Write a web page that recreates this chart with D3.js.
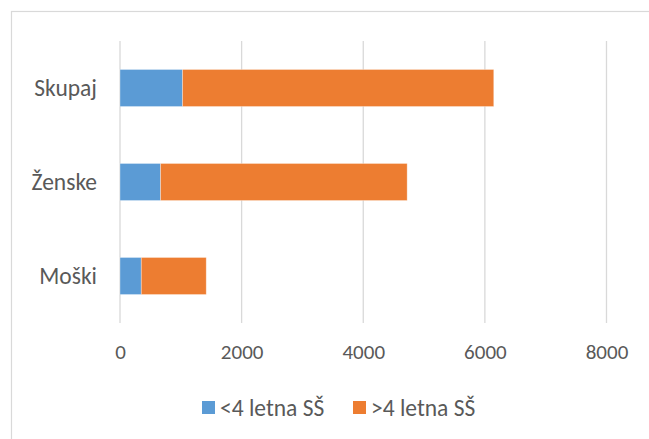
<!DOCTYPE html>
<html>
<head>
<meta charset="utf-8">
<script src="https://cdn.jsdelivr.net/npm/d3@7"></script>
<style>
  body { margin: 0; background: #fff; }
  text { font-family: Carlito, Calibri, Lato, sans-serif; fill: #595959; }
</style>
</head>
<body>
<div id="chart"></div>
<script>

let categories = ["Skupaj", "Ženske", "Moški"];
let series_names = ["<4 letna SŠ", ">4 letna SŠ"];
let series_colors = ["#5B9BD5", "#ED7D31"];
let below_4 = [1029, 667, 350];
let above_4 = [5117, 4055, 1068];
let x_ticks = [0, 2000, 4000, 6000, 8000];

function draw_chart() {

    let chart_width = 649;
    let chart_height = 439;

    let margin_top = 41;
    let margin_left = 120;
    let plot_width = 606.5 - margin_left;
    let plot_height = 323 - margin_top;

    let svg = d3.select("#chart")
                .append("svg")
                .attr("width", chart_width)
                .attr("height", chart_height);

    // outer border, cut off at right and bottom like the source
    svg.append("rect")
        .attr("x", 11.5)
        .attr("y", 11.5)
        .attr("width", 700)
        .attr("height", 500)
        .attr("fill", "none")
        .attr("stroke", "#D9D9D9")
        .attr("stroke-width", 1.2);

    let g = svg.append("g")
                .attr("transform", "translate(" + margin_left + "," + margin_top + ")");

    let xScale = d3.scaleLinear()
                    .domain([0, 8000])
                    .range([0, plot_width]);

    let yScale = d3.scaleBand()
                    .domain(categories)
                    .range([0, plot_height])
                    .paddingInner(0.606)
                    .paddingOuter(0.303);

    // gridlines
    g.selectAll(".grid_line")
        .data(x_ticks)
        .enter()
        .append("line")
        .attr("class", "grid_line")
        .attr("x1", d => xScale(d))
        .attr("x2", d => xScale(d))
        .attr("y1", 0)
        .attr("y2", plot_height)
        .attr("stroke", "#D9D9D9")
        .attr("stroke-width", 1.3);

    let x_axis = g.append("g")
        .attr("class", "x axis")
        .attr("transform", "translate(0," + plot_height + ")")
        .call(d3.axisBottom(xScale).tickValues(x_ticks).tickSize(0).tickPadding(21).tickFormat(d3.format("d")));
    x_axis.select(".domain").remove();
    x_axis.selectAll("text").style("font-size", "21px").attr("fill", "#595959");

    let y_axis = g.append("g")
        .attr("class", "y axis")
        .call(d3.axisLeft(yScale).tickSize(0).tickPadding(23));
    y_axis.select(".domain").remove();
    y_axis.selectAll("text").style("font-size", "23.5px").attr("fill", "#595959");

    // stacked bars
    let rows = categories.map((c, i) => ({ cat: c, v0: below_4[i], v1: above_4[i] }));
    let stacked = d3.stack().keys(["v0", "v1"])(rows);

    stacked.forEach((layer, li) => {
        g.selectAll(".bar_" + li)
            .data(layer)
            .enter()
            .append("rect")
            .attr("class", "bar_" + li)
            .attr("x", d => xScale(d[0]))
            .attr("y", d => yScale(d.data.cat))
            .attr("width", d => xScale(d[1]) - xScale(d[0]))
            .attr("height", yScale.bandwidth())
            .attr("fill", series_colors[li])
            .attr("stroke", "#fff")
            .attr("stroke-opacity", 0.4)
            .attr("stroke-width", 0.8);
    });

    // legend
    let legend_x = [202, 353];
    let legend = svg.selectAll(".legend_item")
        .data(series_names)
        .enter()
        .append("g")
        .attr("class", "legend_item")
        .attr("transform", (d, i) => "translate(" + legend_x[i] + ",401)");

    legend.append("rect")
        .attr("width", 13)
        .attr("height", 13)
        .attr("fill", (d, i) => series_colors[i]);

    legend.append("text")
        .attr("x", 18)
        .attr("y", 6.5)
        .attr("dy", "0.35em")
        .style("font-size", "23.5px")
        .text(d => d);
}

draw_chart();
</script>
</body>
</html>
